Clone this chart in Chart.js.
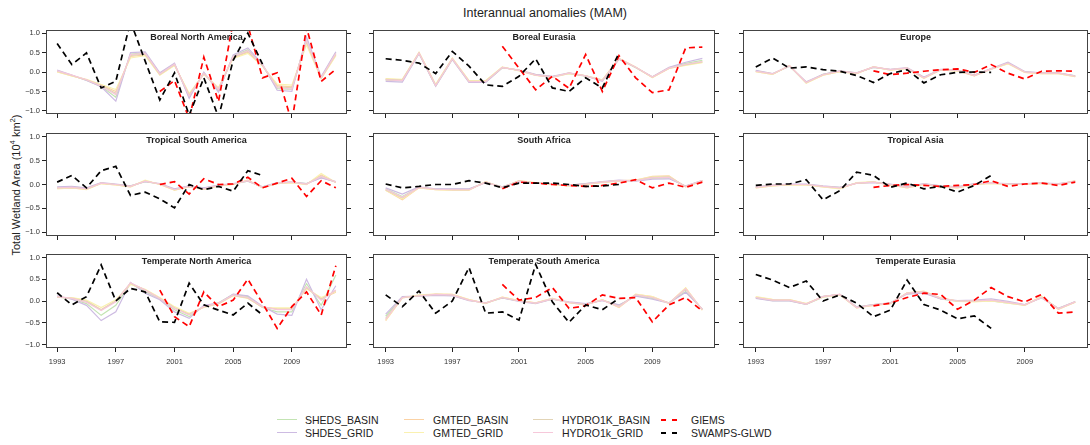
<!DOCTYPE html>
<html>
<head>
<meta charset="utf-8">
<script src="https://cdn.jsdelivr.net/npm/chart.js@4.4.0/dist/chart.umd.min.js"></script>
<style>
body{margin:0;width:1090px;height:445px;overflow:hidden;background:#fff;position:relative;font-family:"Liberation Sans",Arial,sans-serif;color:#222}
canvas{position:absolute}
.title{position:absolute;left:0;top:6px;width:1090px;text-align:center;font-size:12.5px}
.ylab{position:absolute;left:16px;top:185px;transform:translate(-50%,-50%) rotate(-90deg);white-space:nowrap;font-size:11px}
.ylab sup{font-size:70%;line-height:0}
.leg{position:absolute;font-size:10.5px;line-height:12px;white-space:nowrap}
.sw{position:absolute;height:0}
</style>
</head>
<body>
<div class="title">Interannual anomalies (MAM)</div>
<div class="ylab">Total Wetland Area (10<sup>4</sup> km<sup>2</sup>)</div>
<div id="legend"></div>
<script>
const years = [1993,1994,1995,1996,1997,1998,1999,2000,2001,2002,2003,2004,2005,2006,2007,2008,2009,2010,2011,2012]
const regions = ['Boreal North America','Boreal Eurasia','Europe','Tropical South America','South Africa','Tropical Asia','Temperate North America','Temperate South America','Temperate Eurasia']
const xTicks = [1993,1997,2001,2005,2009]
const yTicks = [-1,-0.5,0,0.5,1]

const shedsBasin = [
  [0.03,-0.09,-0.21,-0.37,-0.65,0.46,0.49,-0.04,0.21,-0.64,-0.02,-0.48,0.41,0.57,0.17,-0.43,-0.45,0.85,-0.14,0.5],
  [-0.21,-0.23,0.48,-0.36,0.33,-0.26,-0.26,0.11,0.05,-0.07,-0.12,-0.04,-0.11,-0.21,0.33,0.11,-0.13,0.11,0.22,0.3],
  [0.03,-0.05,0.15,-0.28,-0.06,0.02,-0.02,0.12,0.06,0.09,-0.14,0.06,0.05,-0.08,0.08,0.22,0.0,-0.02,-0.03,-0.1],
  [-0.06,-0.05,-0.08,0.03,0.0,-0.03,0.06,0.01,-0.1,-0.04,-0.08,-0.02,0.01,0.07,-0.05,0.03,0.05,0.02,0.15,0.05],
  [-0.09,-0.25,-0.06,-0.1,-0.1,-0.1,0.05,-0.05,0.07,0.03,0.01,-0.02,0.02,0.05,0.08,0.08,0.13,0.14,-0.04,0.08],
  [-0.05,-0.02,0.0,0.0,-0.04,-0.06,0.03,0.05,0.0,-0.05,0.01,-0.03,-0.05,0.01,0.03,0.01,0.01,0.03,0.01,0.06],
  [0.1,0.05,-0.06,-0.33,-0.1,0.4,0.22,0.05,-0.2,-0.36,-0.12,-0.04,0.15,0.1,-0.15,-0.25,-0.25,0.4,-0.1,0.6],
  [-0.35,0.09,0.12,0.14,0.13,0.02,-0.05,0.07,0.0,-0.05,0.04,-0.03,-0.07,0.02,-0.1,0.12,0.06,-0.04,0.22,-0.19],
  [0.07,0.01,0.01,-0.08,0.09,0.14,-0.14,-0.08,-0.05,0.17,0.2,0.05,-0.01,0.0,0.0,-0.05,-0.09,0.09,-0.17,-0.02]
]
const shdesGrid = [
  [0.05,-0.08,-0.22,-0.38,-0.75,0.5,0.52,-0.02,0.23,-0.68,0.0,-0.52,0.44,0.62,0.2,-0.47,-0.5,0.9,-0.12,0.52],
  [-0.24,-0.26,0.47,-0.37,0.32,-0.27,-0.27,0.11,0.05,-0.06,-0.11,-0.02,-0.1,-0.24,0.33,0.12,-0.12,0.12,0.25,0.35],
  [0.04,-0.04,0.15,-0.25,-0.06,0.03,-0.02,0.12,0.07,0.11,-0.13,0.07,0.05,-0.08,0.09,0.25,0.01,-0.02,-0.02,-0.1],
  [-0.05,-0.04,-0.07,0.04,0.01,-0.03,0.06,0.02,-0.09,-0.03,-0.07,-0.01,0.02,0.07,-0.05,0.04,0.05,0.02,0.14,0.06],
  [-0.07,-0.2,-0.05,-0.09,-0.09,-0.09,0.04,-0.05,0.06,0.03,0.01,-0.01,0.02,0.06,0.09,0.07,0.11,0.12,-0.03,0.08],
  [-0.05,-0.01,0.01,0.01,-0.03,-0.06,0.03,0.04,0.01,-0.05,0.02,-0.03,-0.05,0.02,0.03,0.02,0.02,0.03,0.02,0.06],
  [0.12,0.04,-0.1,-0.45,-0.25,0.43,0.18,0.03,-0.25,-0.4,-0.1,-0.05,0.16,0.12,-0.12,-0.3,-0.33,0.5,-0.2,0.35],
  [-0.3,0.1,0.11,0.13,0.12,0.01,-0.04,0.07,-0.01,-0.06,0.04,-0.02,-0.06,0.01,-0.09,0.11,0.04,-0.05,0.2,-0.18],
  [0.06,0.0,0.0,-0.08,0.11,0.15,-0.14,-0.08,-0.04,0.16,0.18,0.05,0.01,0.02,0.05,-0.01,-0.08,0.07,-0.17,-0.01]
]
const gmtedBasin = [
  [0.01,-0.1,-0.2,-0.33,-0.5,0.4,0.44,-0.07,0.18,-0.58,-0.05,-0.42,0.37,0.5,0.16,-0.35,-0.38,0.75,-0.16,0.44],
  [-0.18,-0.2,0.5,-0.33,0.35,-0.23,-0.23,0.12,0.04,-0.08,-0.13,-0.03,-0.1,-0.21,0.35,0.12,-0.14,0.09,0.18,0.25],
  [0.01,-0.06,0.16,-0.28,-0.08,0.01,-0.04,0.13,0.05,0.1,-0.16,0.05,0.03,-0.1,0.07,0.22,-0.01,-0.04,-0.04,-0.12],
  [-0.08,-0.07,-0.1,0.02,-0.01,-0.05,0.08,0.0,-0.12,-0.05,-0.1,-0.03,0.0,0.09,-0.07,0.02,0.04,0.0,0.2,0.04],
  [-0.12,-0.32,-0.07,-0.11,-0.12,-0.12,0.06,-0.07,0.08,0.03,0.0,-0.03,0.0,0.05,0.08,0.09,0.17,0.18,-0.05,0.07],
  [-0.07,-0.03,-0.01,-0.01,-0.05,-0.08,0.03,0.05,-0.01,-0.07,0.0,-0.05,-0.07,0.0,0.03,0.0,0.0,0.03,0.0,0.07],
  [0.09,0.07,0.0,-0.2,0.0,0.4,0.26,0.07,-0.15,-0.3,-0.14,-0.06,0.13,0.07,-0.14,-0.18,-0.18,0.3,0.05,0.2],
  [-0.45,0.07,0.13,0.16,0.15,0.03,-0.05,0.09,0.01,-0.04,0.06,-0.04,-0.09,0.03,-0.15,0.15,0.1,-0.05,0.3,-0.21],
  [0.09,0.03,0.03,-0.06,0.1,0.15,-0.16,-0.1,-0.06,0.19,0.22,0.07,0.0,-0.01,0.01,-0.04,-0.1,0.1,-0.19,-0.03]
]
const gmtedGrid = [
  [0.0,-0.1,-0.19,-0.32,-0.45,0.36,0.42,-0.08,0.17,-0.55,-0.06,-0.4,0.35,0.48,0.15,-0.31,-0.34,0.7,-0.17,0.42],
  [-0.17,-0.19,0.5,-0.32,0.36,-0.22,-0.22,0.13,0.03,-0.09,-0.14,-0.04,-0.09,-0.2,0.35,0.13,-0.14,0.09,0.17,0.24],
  [0.01,-0.06,0.17,-0.29,-0.08,0.01,-0.04,0.14,0.05,0.09,-0.16,0.05,0.03,-0.1,0.07,0.21,-0.01,-0.04,-0.04,-0.12],
  [-0.09,-0.07,-0.11,0.02,-0.01,-0.05,0.09,0.0,-0.12,-0.05,-0.1,-0.03,0.0,0.09,-0.07,0.02,0.04,0.0,0.23,0.04],
  [-0.12,-0.3,-0.07,-0.11,-0.12,-0.12,0.06,-0.07,0.08,0.04,0.0,-0.03,0.0,0.04,0.07,0.09,0.16,0.17,-0.05,0.07],
  [-0.07,-0.03,-0.01,-0.01,-0.05,-0.09,0.04,0.06,-0.01,-0.07,0.0,-0.05,-0.07,0.0,0.02,0.0,0.0,0.02,0.0,0.08],
  [0.08,0.08,0.02,-0.15,0.03,0.38,0.27,0.08,-0.13,-0.28,-0.15,-0.07,0.12,0.06,-0.15,-0.16,-0.16,0.28,0.08,0.22],
  [-0.44,0.07,0.14,0.16,0.15,0.03,-0.06,0.09,0.01,-0.04,0.06,-0.04,-0.09,0.03,-0.14,0.16,0.1,-0.06,0.3,-0.21],
  [0.1,0.04,0.03,-0.06,0.09,0.14,-0.16,-0.1,-0.06,0.19,0.23,0.07,-0.01,-0.02,0.0,-0.05,-0.1,0.11,-0.19,-0.03]
]
const hydroBasin = [
  [0.02,-0.09,-0.2,-0.35,-0.55,0.43,0.46,-0.06,0.19,-0.6,-0.04,-0.44,0.39,0.53,0.17,-0.38,-0.41,0.78,-0.15,0.46],
  [-0.19,-0.21,0.49,-0.34,0.34,-0.24,-0.24,0.12,0.04,-0.08,-0.13,-0.03,-0.1,-0.22,0.34,0.12,-0.13,0.1,0.19,0.26],
  [0.02,-0.05,0.16,-0.27,-0.07,0.02,-0.03,0.13,0.06,0.1,-0.15,0.06,0.04,-0.09,0.08,0.23,0.0,-0.03,-0.03,-0.11],
  [-0.07,-0.06,-0.09,0.03,0.0,-0.04,0.07,0.01,-0.11,-0.04,-0.09,-0.02,0.01,0.08,-0.06,0.03,0.05,0.01,0.18,0.05],
  [-0.11,-0.28,-0.06,-0.1,-0.11,-0.11,0.05,-0.06,0.07,0.03,0.01,-0.02,0.01,0.05,0.08,0.08,0.15,0.16,-0.04,0.08],
  [-0.06,-0.02,0.0,0.0,-0.04,-0.07,0.03,0.05,0.0,-0.06,0.01,-0.04,-0.06,0.01,0.03,0.01,0.01,0.03,0.01,0.07],
  [0.09,0.06,-0.01,-0.2,0.0,0.41,0.25,0.06,-0.16,-0.31,-0.13,-0.06,0.13,0.07,-0.14,-0.19,-0.19,0.31,0.04,0.24],
  [-0.4,0.08,0.12,0.15,0.14,0.02,-0.05,0.08,0.0,-0.05,0.05,-0.03,-0.08,0.02,-0.12,0.14,0.08,-0.05,0.27,-0.2],
  [0.08,0.02,0.02,-0.07,0.1,0.15,-0.15,-0.09,-0.05,0.18,0.21,0.06,0.0,0.0,0.02,-0.03,-0.09,0.08,-0.18,-0.02]
]
const hydroGrid = [
  [0.03,-0.08,-0.2,-0.36,-0.58,0.45,0.48,-0.05,0.2,-0.62,-0.03,-0.45,0.4,0.55,0.18,-0.4,-0.44,0.82,-0.15,0.48],
  [-0.2,-0.22,0.49,-0.35,0.34,-0.25,-0.25,0.12,0.04,-0.08,-0.13,-0.03,-0.1,-0.22,0.34,0.12,-0.13,0.1,0.2,0.27],
  [0.02,-0.05,0.16,-0.27,-0.07,0.02,-0.03,0.13,0.06,0.1,-0.15,0.06,0.04,-0.09,0.08,0.23,0.0,-0.03,-0.03,-0.11],
  [-0.07,-0.06,-0.09,0.03,0.0,-0.04,0.07,0.01,-0.11,-0.04,-0.09,-0.02,0.01,0.08,-0.06,0.03,0.05,0.01,0.17,0.05],
  [-0.1,-0.27,-0.06,-0.1,-0.11,-0.11,0.05,-0.06,0.07,0.03,0.01,-0.02,0.01,0.05,0.08,0.08,0.14,0.15,-0.04,0.08],
  [-0.06,-0.02,0.0,0.0,-0.04,-0.07,0.03,0.05,0.0,-0.06,0.01,-0.04,-0.06,0.01,0.03,0.01,0.01,0.03,0.01,0.07],
  [0.1,0.06,-0.03,-0.22,-0.02,0.42,0.25,0.06,-0.17,-0.32,-0.13,-0.05,0.14,0.08,-0.13,-0.2,-0.2,0.33,0.02,0.25],
  [-0.42,0.08,0.12,0.15,0.14,0.02,-0.05,0.08,0.0,-0.05,0.05,-0.03,-0.08,0.02,-0.13,0.14,0.08,-0.05,0.28,-0.2],
  [0.08,0.02,0.02,-0.07,0.1,0.15,-0.15,-0.09,-0.05,0.18,0.21,0.06,0.0,0.0,0.02,-0.03,-0.09,0.08,-0.18,-0.02]
]
const giems = [
  [null,null,null,null,null,null,null,-0.5,-0.22,-1.2,0.38,-0.76,1.3,1.2,-0.15,-0.02,-1.3,1.15,-0.24,0.07],
  [null,null,null,null,null,null,null,0.66,0.1,-0.46,-0.11,-0.42,0.45,-0.5,0.42,-0.15,-0.53,-0.46,0.62,0.64],
  [null,null,null,null,null,null,null,0.03,-0.07,-0.03,0.02,0.06,0.08,-0.01,0.19,-0.03,-0.18,0.02,0.03,0.02],
  [null,null,null,null,null,null,null,0.0,0.06,-0.2,0.12,0.0,0.01,0.15,-0.07,0.03,0.13,-0.25,0.08,-0.07],
  [null,null,null,null,null,null,null,-0.09,0.05,0.03,0.0,-0.02,-0.04,-0.02,0.03,0.1,-0.07,0.03,-0.06,0.05],
  [null,null,null,null,null,null,null,-0.06,-0.02,0.0,-0.02,-0.04,-0.02,0.0,0.08,-0.04,0.01,0.03,-0.02,0.05],
  [null,null,null,null,null,null,null,0.25,-0.36,-0.59,0.21,-0.13,0.02,0.5,-0.05,-0.63,-0.13,0.21,-0.32,0.81],
  [null,null,null,null,null,null,null,0.38,0.02,0.08,0.31,-0.17,-0.11,0.14,0.06,0.08,-0.48,-0.09,0.08,-0.23],
  [null,null,null,null,null,null,null,-0.11,-0.05,0.08,0.18,0.15,-0.19,0.02,0.31,0.1,-0.02,0.15,-0.28,-0.25]
]
const swamps = [
  [0.73,0.19,0.49,-0.41,-0.24,1.3,0.28,-0.72,-0.02,-1.11,-0.15,-1.16,0.3,1.0,0.2,null,null,null,null,null],
  [0.34,0.3,0.23,-0.04,0.53,0.15,-0.33,-0.37,-0.11,0.34,-0.41,-0.5,-0.15,-0.41,0.49,null,null,null,null,null],
  [0.13,0.36,0.1,0.13,0.06,0.02,-0.09,-0.27,-0.04,0.06,-0.28,-0.07,-0.01,0.0,-0.01,null,null,null,null,null],
  [0.05,0.19,-0.07,0.29,0.38,-0.23,-0.16,-0.3,-0.49,0.0,-0.11,-0.04,-0.14,0.29,0.19,null,null,null,null,null],
  [0.01,-0.07,-0.04,0.0,0.0,0.08,0.03,-0.07,0.03,0.03,0.03,0.0,-0.04,-0.03,0.0,null,null,null,null,null],
  [-0.02,0.01,0.01,0.1,-0.32,-0.13,0.26,0.19,-0.06,0.03,-0.09,-0.04,-0.16,-0.02,0.19,null,null,null,null,null],
  [0.19,-0.09,0.1,0.83,0.0,0.29,0.21,-0.48,-0.49,0.41,-0.09,-0.21,-0.32,-0.05,-0.32,null,null,null,null,null],
  [0.14,-0.13,0.23,-0.28,0.0,0.77,-0.28,-0.25,-0.44,0.84,-0.02,-0.49,-0.09,-0.2,0.06,null,null,null,null,null],
  [0.61,0.48,0.31,0.46,0.0,0.14,-0.05,-0.36,-0.21,0.48,-0.08,-0.21,-0.41,-0.34,-0.63,null,null,null,null,null]
]

const seriesNames = ['SHEDS_BASIN','SHDES_GRID','GMTED_BASIN','GMTED_GRID','HYDRO1K_BASIN','HYDRO1k_GRID','GIEMS','SWAMPS-GLWD']
const colors = ['#c3e4b3','#cdbbe2','#fbd2a4','#faf1b0','#e2d4b6','#f6c8da','#ff0000','#000000']

// panel boxes in page pixels
const colLeft = [46, 373, 743]
const colRight = [347, 715, 1088]
const rowTop = [30, 133, 254]
const rowBottom = [114, 236, 348]

const fontTick = {family: '"Liberation Sans", Arial, sans-serif', size: 7.5}

const boxPlugin = {
  id: 'box',
  afterDraw(chart, args, opts) {
    const a = chart.chartArea
    const ctx = chart.ctx
    ctx.save()
    ctx.strokeStyle = '#444'
    ctx.lineWidth = 1
    ctx.strokeRect(Math.round(a.left) + 0.5, Math.round(a.top) + 0.5, Math.round(a.right - a.left) - 1, Math.round(a.bottom - a.top) - 1)
    ctx.fillStyle = '#222'
    ctx.font = 'bold 9px "Liberation Sans", Arial, sans-serif'
    ctx.textAlign = 'center'
    ctx.textBaseline = 'middle'
    ctx.fillText(opts.title, (a.left + a.right) / 2, a.top + 7.5)
    ctx.restore()
  }
}

const grid = {display: true, drawOnChartArea: false, drawTicks: true, tickLength: 4, color: '#222', lineWidth: 1}

const makePanel = function(i) {
  const r = Math.floor(i / 3)
  const c = i % 3
  const yW = c == 0 ? 46 : 8
  const rightW = 8
  const padTop = 8
  const xH = r == 2 ? 24 : 8
  const boxW = colRight[c] - colLeft[c]
  const boxH = rowBottom[r] - rowTop[r]

  const cv = document.createElement('canvas')
  cv.width = yW + boxW + rightW
  cv.height = padTop + boxH + xH
  cv.style.left = (colLeft[c] - yW) + 'px'
  cv.style.top = (rowTop[r] - padTop) + 'px'
  document.body.appendChild(cv)

  const models = [shedsBasin, shdesGrid, gmtedBasin, gmtedGrid, hydroBasin, hydroGrid]
  const datasets = []
  for (let m = 0; m < models.length; m++) {
    datasets.push({label: seriesNames[m], data: models[m][i], borderColor: colors[m], borderWidth: 1.2, order: 7 - m})
  }
  datasets.push({label: seriesNames[6], data: giems[i], borderColor: colors[6], borderWidth: 1.7, borderDash: [6, 4], order: 1})
  datasets.push({label: seriesNames[7], data: swamps[i], borderColor: colors[7], borderWidth: 1.7, borderDash: [6, 4], order: 0})

  new Chart(cv, {
    type: 'line',
    data: {labels: years, datasets: datasets},
    options: {
      responsive: false,
      animation: false,
      devicePixelRatio: 1,
      layout: {padding: {top: padTop, left: 0, right: 0, bottom: 0}},
      elements: {point: {radius: 0}, line: {tension: 0}},
      datasets: {line: {clip: 0, spanGaps: false}},
      plugins: {legend: {display: false}, tooltip: {enabled: false}, box: {title: regions[i]}},
      scales: {
        x: {
          type: 'linear', min: 1992.24, max: 2012.76,
          afterBuildTicks: s => { s.ticks = xTicks.map(v => ({value: v})) },
          afterFit: s => { s.height = xH },
          grid: grid, border: {display: false},
          ticks: {display: r == 2, autoSkip: false, maxRotation: 0, font: fontTick, color: '#333', padding: 5, callback: v => String(v)}
        },
        y: {
          type: 'linear', position: 'left', min: -1.08, max: 1.08,
          afterBuildTicks: s => { s.ticks = yTicks.map(v => ({value: v})) },
          afterFit: s => { s.width = yW },
          grid: grid, border: {display: false},
          ticks: {display: c == 0, font: fontTick, color: '#333', padding: 2, callback: v => v.toFixed(1).replace('-', '\u2212')}
        },
        y2: {
          type: 'linear', position: 'right', min: -1.08, max: 1.08,
          afterBuildTicks: s => { s.ticks = yTicks.map(v => ({value: v})) },
          afterFit: s => { s.width = rightW },
          grid: grid, border: {display: false},
          ticks: {display: false}
        }
      }
    },
    plugins: [boxPlugin]
  })
}

const makeLegend = function() {
  const lineX = [277, 404, 533, 661]
  const textX = [305, 433, 562, 691]
  const rowY = [420, 433]
  const leg = document.getElementById('legend')
  for (let k = 0; k < seriesNames.length; k++) {
    const col = Math.floor(k / 2)
    const row = k % 2
    const y = rowY[row]
    if (k < 6) {
      const sw = document.createElement('div')
      sw.className = 'sw'
      sw.style.left = lineX[col] + 'px'
      sw.style.top = (y - 1) + 'px'
      sw.style.width = '20px'
      sw.style.borderTop = '1.5px solid ' + colors[k]
      leg.appendChild(sw)
    } else {
      for (const dx of [0, 11]) {
        const sw = document.createElement('div')
        sw.className = 'sw'
        sw.style.left = (lineX[col] + dx) + 'px'
        sw.style.top = (y - 1) + 'px'
        sw.style.width = '5px'
        sw.style.borderTop = '2px solid ' + colors[k]
        leg.appendChild(sw)
      }
    }
    const t = document.createElement('div')
    t.className = 'leg'
    t.style.left = textX[col] + 'px'
    t.style.top = (y - 6) + 'px'
    t.textContent = seriesNames[k]
    leg.appendChild(t)
  }
}

document.addEventListener('DOMContentLoaded', function () {
  for (let i = 0; i < regions.length; i++) {
    makePanel(i)
  }
  makeLegend()
})
</script>
</body>
</html>
